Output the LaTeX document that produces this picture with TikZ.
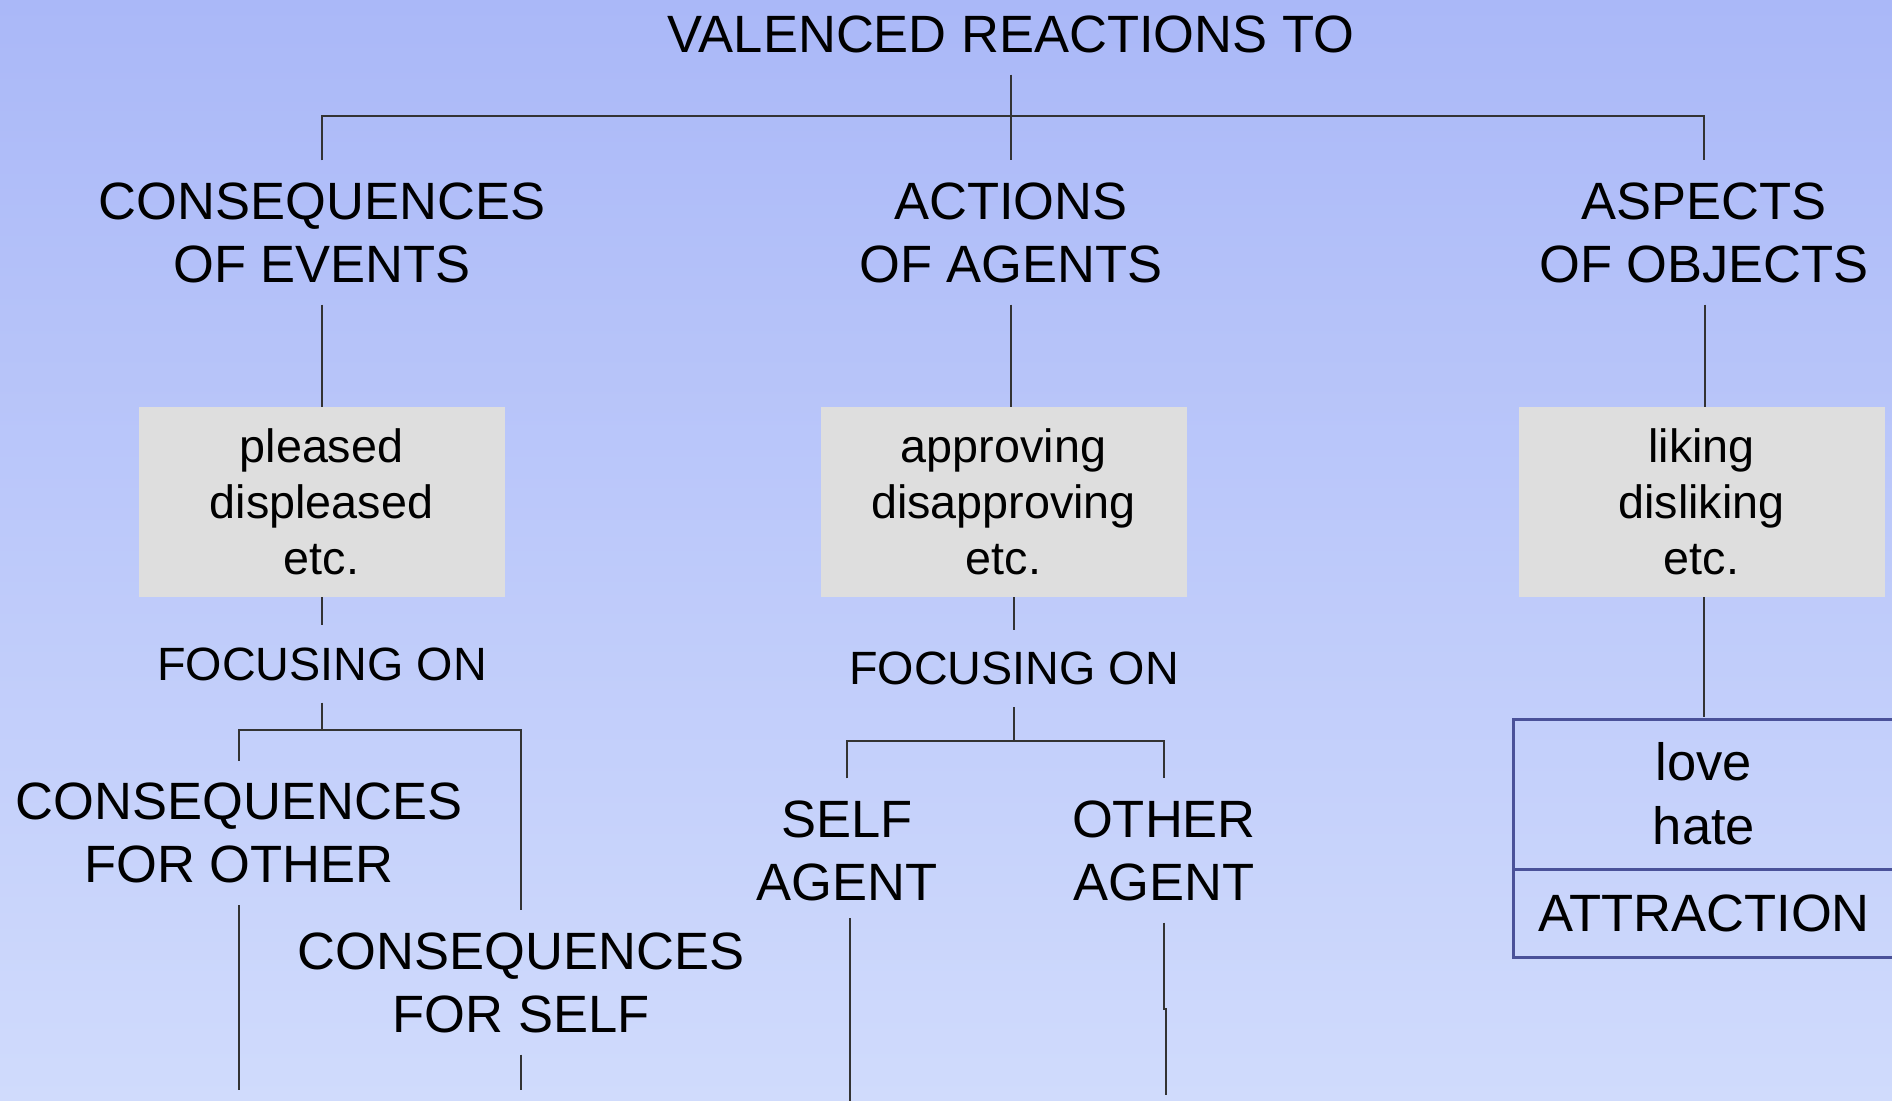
\documentclass[tikz,border=0pt]{standalone}
\usepackage{fontspec}
\setmainfont{Liberation Sans}
\definecolor{bgtop}{HTML}{AAB8F8}
\definecolor{bgbot}{HTML}{D0DBFC}
\definecolor{boxgrey}{HTML}{DEDEDE}
\definecolor{wirecol}{HTML}{333333}
\definecolor{framecol}{HTML}{4A5199}
\begin{document}
\begin{tikzpicture}[x=0.5pt,y=-0.5pt,
  big/.style={font=\fontsize{26.25pt}{31.5pt}\selectfont},
  lbl/.style={big, align=center, inner sep=0pt, outer xsep=0pt, outer ysep=11pt},
  focus/.style={lbl, font=\fontsize{23.35pt}{28pt}\selectfont},
  greybox/.style={fill=boxgrey, minimum width=183pt, minimum height=95pt,
    inner sep=0pt, align=center, font=\fontsize{23.35pt}{28pt}\selectfont},
  framebox/.style={draw=framecol, line width=1.5pt, minimum width=191pt,
    inner sep=0pt, align=center, font=\fontsize{26.25pt}{32pt}\selectfont},
  wire/.style={draw=wirecol, line width=1pt},
]
% page and background
\useasboundingbox (0,0) rectangle (1892,1101);
\shade[top color=bgtop, bottom color=bgbot] (0,0) rectangle (1892,1101);
\clip (0,0) rectangle (1892,1101);

% title and first level
\node[lbl] (title) at (1011,34) {VALENCED REACTIONS TO};
\node[lbl] (c1) at (322,232.5) {CONSEQUENCES\\OF EVENTS};
\node[lbl] (c2) at (1011,232.5) {ACTIONS\\OF AGENTS};
\node[lbl] (c3) at (1704,232.5) {ASPECTS\\OF OBJECTS};
\coordinate (j0) at (1011,116);

% reaction boxes
\node[greybox] (b1) at (321.5,502) {pleased\\displeased\\etc.};
\node[greybox] (b2) at (1003.5,502) {approving\\disapproving\\etc.};
\node[greybox] (b3) at (1701.5,502) {liking\\disliking\\etc.};

% focusing labels
\node[focus] (f1) at (322,664) {FOCUSING ON};
\node[focus] (f2) at (1014,668.5) {FOCUSING ON};
\coordinate (j1) at (322,730);
\coordinate (j2) at (1014,741);

% lower branches
\node[lbl] (o1) at (239,833) {CONSEQUENCES\\FOR OTHER};
\node[lbl] (s1) at (521,982.5) {CONSEQUENCES\\FOR SELF};
\node[lbl] (sa) at (847,850.5) {SELF\\AGENT};
\node[lbl] (oa) at (1164,850.5) {OTHER\\AGENT};

% attraction frame
\node[framebox, minimum height=75pt] (love) at (1704,794) {love\\hate};
\node[framebox, minimum height=44pt] (attr) at (1704,913) {ATTRACTION};

% free ends at the bottom
\coordinate (e1) at (239,1090);
\coordinate (e2) at (521,1090);
\coordinate (e3s) at (850,918);
\coordinate (e3) at (850,1101);
\coordinate (e4a) at (1164,1009);
\coordinate (e4b) at (1166,1009);
\coordinate (e4) at (1166,1095);

% connectors
\draw[wire, line width=1.3pt] (c1.north) |- (j0) -| (c3.north);
\draw[wire] (title.south) -- (c2.north);
\draw[wire] (c1.south) -- (c1.south |- b1.north);
\draw[wire] (c2.south) -- (c2.south |- b2.north);
\draw[wire] ([xshift=0.5pt]c3.south) -- ([xshift=0.5pt]c3.south |- b3.north);
\draw[wire] (b1.south -| f1.north) -- (f1.north);
\draw[wire] (b2.south -| f2.north) -- (f2.north);
\draw[wire] (f1.south) -- (j1);
\draw[wire] (o1.north) |- (j1) -| (s1.north);
\draw[wire] (f2.south) -- (j2);
\draw[wire] (sa.north) |- (j2) -| (oa.north);
\draw[wire] (o1.south) -- (e1);
\draw[wire] (s1.south) -- (e2);
\draw[wire] (e3s) -- (e3);
\draw[wire] (oa.south) -- (e4a) -- (e4b) -- (e4);
\draw[wire] (b3.south -| love.north) -- (love.north);
\end{tikzpicture}
\end{document}
